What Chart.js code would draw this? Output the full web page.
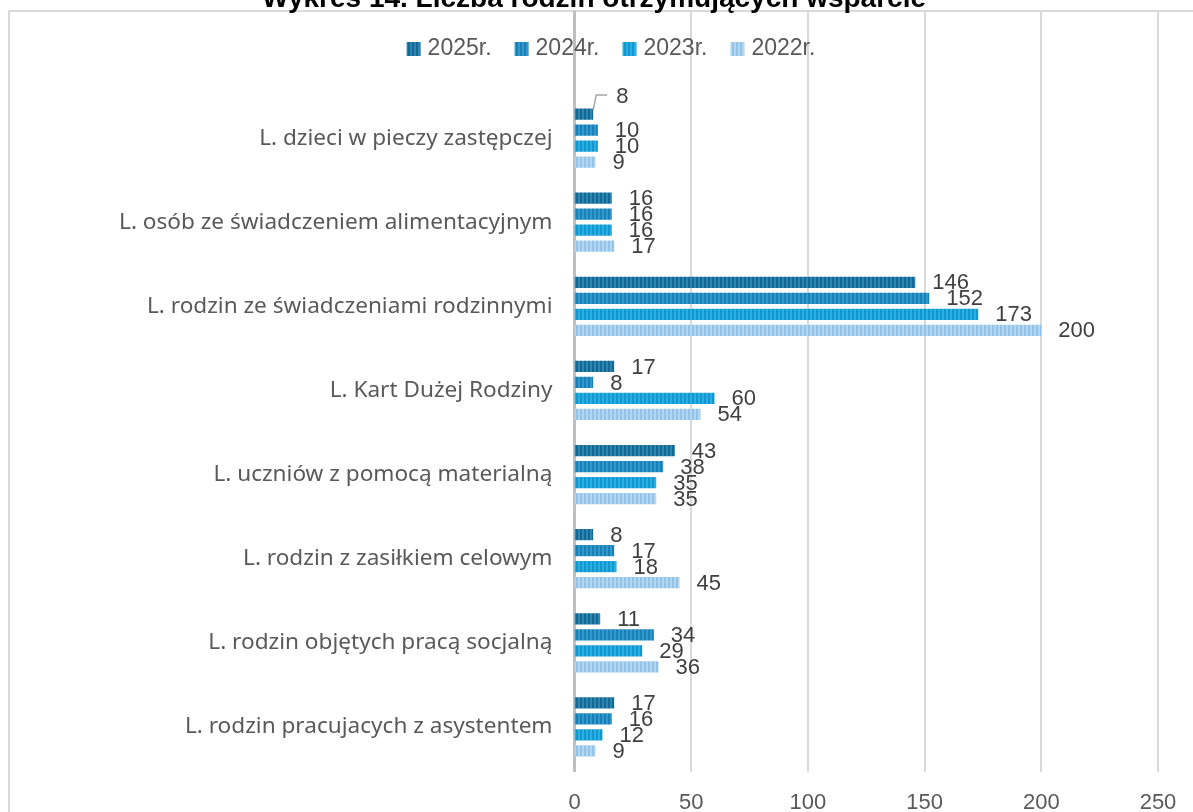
<!DOCTYPE html>
<html>
<head>
<meta charset="utf-8">
<script src="https://cdn.jsdelivr.net/npm/chart.js@4"></script>
<style>
  body { margin: 0; background: #ffffff; }
  canvas { display: block; }
</style>
</head>
<body>
<canvas id="chart" width="1193" height="812"></canvas>
<script>
// Chart data
const categories = [
    'L. dzieci w pieczy zastępczej',
    'L. osób ze świadczeniem alimentacyjnym',
    'L. rodzin ze świadczeniami rodzinnymi',
    'L. Kart Dużej Rodziny',
    'L. uczniów z pomocą materialną',
    'L. rodzin z zasiłkiem celowym',
    'L. rodzin objętych pracą socjalną',
    'L. rodzin pracujacych z asystentem'
];
const years = ['2025r.', '2024r.', '2023r.', '2022r.'];
const values2025 = [8, 16, 146, 17, 43, 8, 11, 17];
const values2024 = [10, 16, 152, 8, 38, 17, 34, 16];
const values2023 = [10, 16, 173, 60, 35, 18, 29, 12];
const values2022 = [9, 17, 200, 54, 35, 45, 36, 9];
const xTickMin = 0;
const xTickMax = 250;
const xTickStep = 50;

const chartTitle = 'Wykres 14. Liczba rodzin otrzymujących wsparcie';

// striped fills like the Excel pattern
function stripes(base, dark) {
    const c = document.createElement('canvas');
    c.width = 4;
    c.height = 4;
    const g = c.getContext('2d');
    g.fillStyle = base;
    g.fillRect(0, 0, 4, 4);
    g.fillStyle = dark;
    g.fillRect(0, 0, 2, 4);
    return g.createPattern(c, 'repeat');
}

const fills = [
    stripes('#2a86b4', '#176891'),
    stripes('#2e9ad0', '#1c7fb3'),
    stripes('#27b0e6', '#1496cc'),
    stripes('#b3d6f2', '#94c3e8')
];

const seriesValues = [values2025, values2024, values2023, values2022];

// frame, grid lines that run up through the legend area
const backgroundPlugin = {
    id: 'background',
    beforeDraw(chart) {
        const ctx = chart.ctx;
        ctx.save();
        ctx.strokeStyle = '#dadada';
        ctx.lineWidth = 2;
        ctx.strokeRect(9, 11, chart.width + 20, chart.height + 20);
        ctx.restore();
    },
    beforeDatasetsDraw(chart) {
        const ctx = chart.ctx;
        const xs = chart.scales.x;
        const top = 11;
        const bottom = chart.chartArea.bottom + 3;
        ctx.save();
        for (let v = xTickMin + xTickStep; v <= xTickMax; v += xTickStep) {
            const px = Math.round(xs.getPixelForValue(v));
            ctx.strokeStyle = '#d9d9d9';
            ctx.lineWidth = 2;
            ctx.beginPath();
            ctx.moveTo(px, top);
            ctx.lineTo(px, bottom);
            ctx.stroke();
        }
        const zero = xs.getPixelForValue(0);
        ctx.strokeStyle = '#bfbfbf';
        ctx.lineWidth = 3;
        ctx.beginPath();
        ctx.moveTo(zero, top);
        ctx.lineTo(zero, bottom);
        ctx.stroke();
        ctx.restore();
    }
};

// value labels right of each bar
const labelsPlugin = {
    id: 'valueLabels',
    afterDatasetsDraw(chart) {
        const ctx = chart.ctx;
        ctx.save();
        ctx.font = '22px "Liberation Sans", Arial, sans-serif';
        ctx.fillStyle = '#404040';
        ctx.textBaseline = 'middle';
        ctx.textAlign = 'left';
        chart.data.datasets.forEach((ds, di) => {
            chart.getDatasetMeta(di).data.forEach((bar, i) => {
                let x = bar.x + 17;
                let y = bar.y + 1;
                // first label was moved up by Excel, with a leader line
                if (di === 0 && i === 0) {
                    x = bar.x + 23;
                    y = bar.y - 17;
                    ctx.strokeStyle = '#a6a6a6';
                    ctx.lineWidth = 1.5;
                    ctx.beginPath();
                    ctx.moveTo(bar.x, bar.y - 4);
                    ctx.lineTo(bar.x + 3, y - 2);
                    ctx.lineTo(bar.x + 14, y - 2);
                    ctx.stroke();
                }
                ctx.fillText(String(ds.data[i]), x, y);
            });
        });
        ctx.restore();
    }
};

// title (cut at the top) and legend
const headerPlugin = {
    id: 'header',
    afterDraw(chart) {
        const ctx = chart.ctx;
        ctx.save();
        ctx.font = 'bold 28px "Liberation Sans", Arial, sans-serif';
        ctx.fillStyle = '#000000';
        ctx.textAlign = 'center';
        ctx.textBaseline = 'alphabetic';
        ctx.fillText(chartTitle, 594, 7);

        ctx.font = '23px "Liberation Sans", Arial, sans-serif';
        ctx.textAlign = 'left';
        ctx.textBaseline = 'middle';
        const box = 14, gapText = 7, gapItem = 23;
        const widths = years.map(y => box + gapText + ctx.measureText(y).width);
        const total = widths.reduce((a, w) => a + w, 0) + gapItem * (years.length - 1);
        let x = 611 - total / 2;
        const cy = 49;
        years.forEach((y, i) => {
            ctx.fillStyle = fills[i];
            ctx.fillRect(x, cy - box / 2, box, box);
            ctx.fillStyle = '#595959';
            ctx.fillText(y, x + box + gapText, cy);
            x += widths[i] + gapItem;
        });
        ctx.restore();
    }
};

const config = {
    type: 'bar',
    data: {
        labels: categories,
        datasets: years.map((y, i) => ({
            label: y,
            data: seriesValues[i],
            backgroundColor: fills[i],
            borderWidth: 0,
            categoryPercentage: 0.76,
            barPercentage: 0.7
        }))
    },
    options: {
        indexAxis: 'y',
        responsive: false,
        animation: false,
        layout: {
            padding: { top: 96, right: 35, bottom: 0, left: 0 }
        },
        scales: {
            x: {
                min: xTickMin,
                max: xTickMax,
                // tick marks are hidden, their length only pushes the labels down
                grid: { display: false, drawTicks: true, tickLength: 21 },
                border: { display: false },
                ticks: {
                    stepSize: xTickStep,
                    padding: 0,
                    color: '#595959',
                    font: { family: '"Liberation Sans", Arial, sans-serif', size: 22 }
                },
                afterFit(axis) { axis.height = 43; }
            },
            y: {
                grid: { display: false, drawTicks: false },
                border: { display: false },
                ticks: {
                    padding: 22,
                    color: '#595959',
                    font: { family: '"Noto Sans", sans-serif', size: 22.6 }
                },
                afterFit(axis) { axis.width = 574.5; }
            }
        },
        plugins: {
            legend: { display: false },
            title: { display: false },
            tooltip: { enabled: false }
        }
    },
    plugins: [backgroundPlugin, labelsPlugin, headerPlugin]
};

new Chart(document.getElementById('chart'), config);
</script>
</body>
</html>
